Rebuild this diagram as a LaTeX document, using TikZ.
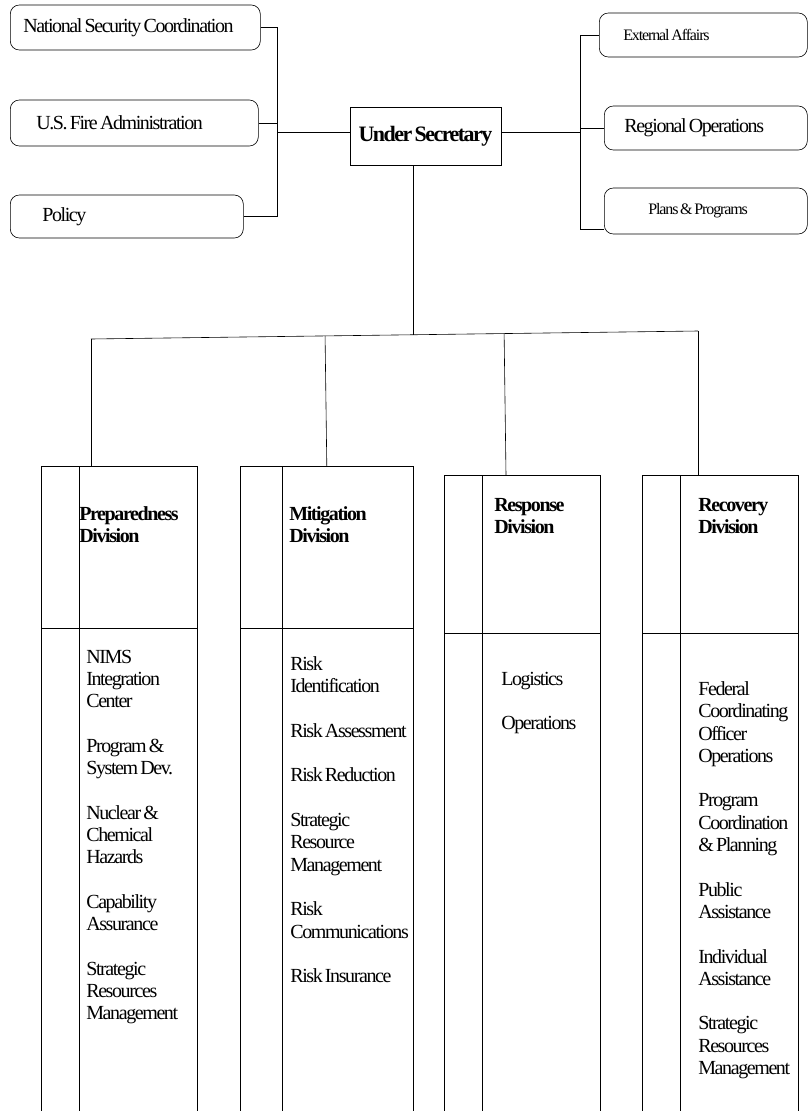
\documentclass[tikz,border=0pt]{standalone}
\usepackage{fontspec}
\setmainfont{Liberation Serif}
\newfontfamily\tight{Liberation Serif}[LetterSpace=-7,WordSpace=0.6]
\usetikzlibrary{calc}

\begin{document}
\begin{tikzpicture}[x=1pt,y=-1pt,line width=0.6pt,
  office/.style={draw,rounded corners=9pt,anchor=west,align=flush left,inner ysep=0pt},
  division/.style={anchor=north west,inner sep=0pt},
  divtext/.style={anchor=north west,align=left,inner sep=0pt,font=\fontsize{20}{22.3}\tight}]
\useasboundingbox (0,0) rectangle (808,1111);

\node[office,font=\fontsize{20}{22}\tight,minimum height=45pt,text width=224pt,inner xsep=13pt] (nsc) at (10,27.5) {National Security Coordination};
\node[office,font=\fontsize{20}{22}\tight,minimum height=46pt,text width=196pt,inner xsep=26pt] (usfa) at (10,123) {U.S. Fire Administration};
\node[office,font=\fontsize{20}{22}\tight,minimum height=43pt,text width=169pt,inner xsep=32pt] (pol) at (10,216.5) {Policy};
\node[office,font=\fontsize{16}{18}\tight,minimum height=44pt,text width=160pt,inner xsep=24pt] (ea) at (599,35) {External Affairs};
\node[office,font=\fontsize{20}{22}\tight,minimum height=44pt,text width=163pt,inner xsep=20pt] (ro) at (604,128) {Regional Operations};
\node[office,font=\fontsize{16}{18}\tight,minimum height=46pt,text width=115pt,inner xsep=44pt] (pp) at (604,211) {Plans \& Programs};
\node[draw,minimum width=151pt,minimum height=58pt,inner sep=0pt,font=\fontsize{22}{24}\tight\bfseries] (us) at (425.5,136) {Under Secretary};

\coordinate (lbus) at (277,132);
\coordinate (rbus) at (580,132);
\draw (nsc.east) -| (lbus);
\draw (pol.east) -| (lbus);
\draw (usfa.east) -- (usfa.east -| lbus);
\draw (lbus) -- (lbus -| us.west);
\draw (rbus) -- (rbus -| us.east);
\draw (ea.west) -| (rbus);
\draw (pp.190) -| (rbus);
\draw (ro.west) -- (ro.west -| rbus);

\node[division,minimum width=156pt,minimum height=645pt] (prep) at (41,466) {};
\node[division,minimum width=173pt,minimum height=645pt] (mit) at (240,466) {};
\node[division,minimum width=156pt,minimum height=636pt] (resp) at (444,475) {};
\node[division,minimum width=156pt,minimum height=636pt] (rec) at (642,475) {};
\foreach \n/\d/\w in {prep/628/38,mit/628/42,resp/633/38,rec/633/38}{
  \draw (\n.south west) |- (\n.north east) -- (\n.south east);
  \draw ($(\n.north west)+(\w,0)$) -- ($(\n.south west)+(\w,0)$);
  \draw (\n.west |- 0,\d) -- (\n.east |- 0,\d);
}

\coordinate (busL) at (91,339);
\coordinate (busR) at (698,331);
\coordinate (busM) at ($(busL)!0.5305!(busR)$);
\coordinate (respin) at ($(resp.north west)+(62,0)$);
\draw (busL) -- (busR);
\draw (us.south -| busM) -- (busM);
\draw (busL) -- (busL |- prep.north);
\draw (busR) -- (busR |- rec.north);
\draw (mit.north) -- ($(busL)!(mit.north)!(busR)$);
\draw (respin) -- ($(busL)!(respin)!(busR)$);

\node[divtext,font=\fontsize{20}{22}\tight\bfseries] (prept) at (79,506.3) {Preparedness\\Division};
\node[divtext,font=\fontsize{20}{22}\tight\bfseries] (mitt) at (289,506.3) {Mitigation\\Division};
\node[divtext,font=\fontsize{20}{22.3}\tight\bfseries] (respt) at (494,498) {Response\\Division};
\node[divtext,font=\fontsize{20}{22.3}\tight\bfseries] (rect) at (698,498) {Recovery\\Division};

\node[divtext] (prepi) at (86,649.5) {NIMS\\Integration\\Center\\[22.3pt]Program \&\\System Dev.\\[22.3pt]Nuclear \&\\Chemical\\Hazards\\[22.3pt]Capability\\Assurance\\[22.3pt]Strategic\\Resources\\Management};
\node[divtext] (miti) at (290,656.3) {Risk\\Identification\\[22.3pt]Risk Assessment\\[22.3pt]Risk Reduction\\[22.3pt]Strategic\\Resource\\Management\\[22.3pt]Risk\\Communications\\[22.3pt]Risk Insurance};
\node[divtext] (respi) at (501,671.5) {Logistics\\[22.3pt]Operations};
\node[divtext] (reci) at (698,681.3) {Federal\\Coordinating\\Officer\\Operations\\[22.3pt]Program\\Coordination\\\& Planning\\[22.3pt]Public\\Assistance\\[22.3pt]Individual\\Assistance\\[22.3pt]Strategic\\Resources\\Management};
\end{tikzpicture}
\end{document}
